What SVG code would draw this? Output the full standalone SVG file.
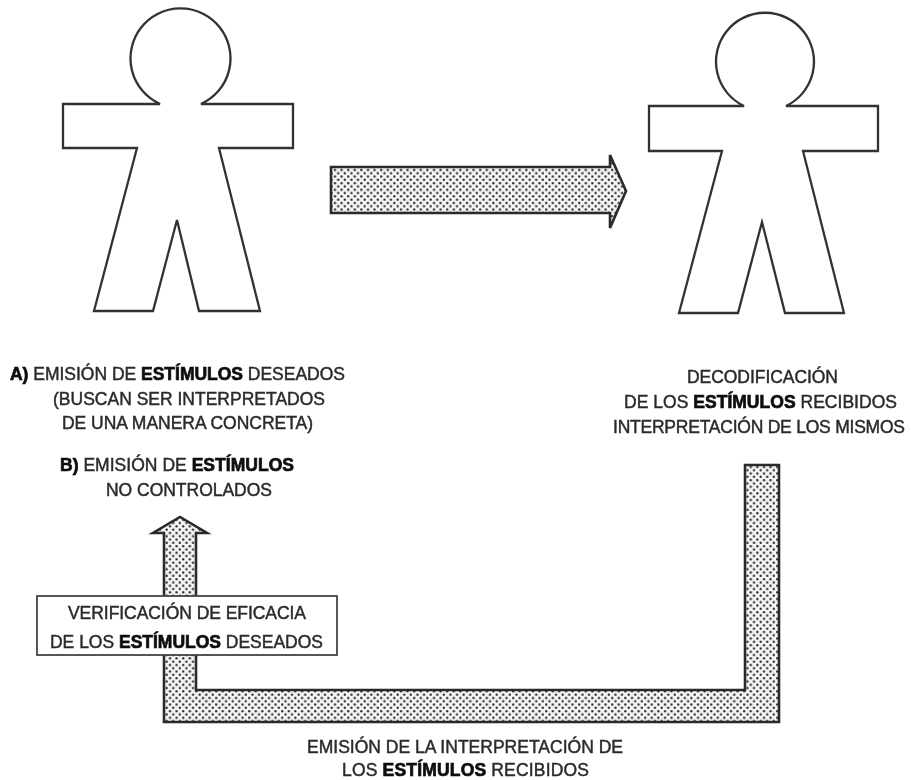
<svg xmlns="http://www.w3.org/2000/svg" width="911" height="780" viewBox="0 0 911 780">
<style>
.fig{fill:#fff;stroke:#333;stroke-width:2.3;stroke-linejoin:miter}
.arr{fill:url(#dots);stroke:#2a2a2a;stroke-width:2.6}
.box{fill:#fff;stroke:#444;stroke-width:1.8}
text{font-family:"Liberation Sans",Arial,sans-serif;font-size:17.5px;fill:#2a2a2a;stroke:#2a2a2a;stroke-width:.45}
.b{font-weight:700;stroke-width:.7;fill:#111;stroke:#111}
</style>
<defs>
<pattern id="dots" width="6.6" height="6.6" patternUnits="userSpaceOnUse">
<rect width="6.6" height="6.6" fill="#f4f4f4"/>
<circle cx="1.65" cy="1.65" r="1.15" fill="#222"/>
<circle cx="4.95" cy="4.95" r="1.15" fill="#222"/>
</pattern>
<filter id="soft" x="-5%" y="-5%" width="110%" height="110%"><feGaussianBlur stdDeviation="0.5"/></filter>
</defs>
<rect width="911" height="780" fill="#fff"/>
<g filter="url(#soft)">
<g id="persona-emisor">
<path class="fig" d="M160,104 A50,50 0 1 1 201,104 H293 V148 H219 L260,311 H199 L177,220 L153,311 H94 L137,148 H63 V104 Z"/>
</g>
<g id="persona-receptor">
<path class="fig" d="M744,106 A49,49 0 1 1 786,106 H878 V151 H803 L844,313 H785 L762,222 L738,313 H679 L722,151 H649 V106 Z"/>
</g>
<g id="connectors">
<path class="arr" d="M331,167 H610 V155 L626,191 L610,228 V213 H331 Z"/>
<path class="arr" d="M745,465 H779 V722 H164 V533 H153 L180,517 L207,533 H196 V690 H745 Z"/>
</g>
<g id="caja-verificacion">
<rect class="box" x="37" y="596" width="300" height="59"/>
<text x="68" y="619" textLength="238">VERIFICACIÓN DE EFICACIA</text>
<text x="50" y="648" textLength="273">DE LOS <tspan class="b">ESTÍMULOS</tspan> DESEADOS</text>
</g>
<g id="texto-emision">
<text x="10" y="380" textLength="335"><tspan class="b">A)</tspan> EMISIÓN DE <tspan class="b">ESTÍMULOS</tspan> DESEADOS</text>
<text x="53" y="405" textLength="272">(BUSCAN SER INTERPRETADOS</text>
<text x="62" y="429" textLength="251">DE UNA MANERA CONCRETA)</text>
<text x="60" y="471" textLength="234"><tspan class="b">B)</tspan> EMISIÓN DE <tspan class="b">ESTÍMULOS</tspan></text>
<text x="106" y="496" textLength="166">NO CONTROLADOS</text>
</g>
<g id="texto-decodificacion">
<text x="687" y="383" textLength="151">DECODIFICACIÓN</text>
<text x="624" y="408" textLength="273">DE LOS <tspan class="b">ESTÍMULOS</tspan> RECIBIDOS</text>
<text x="613" y="433" textLength="292">INTERPRETACIÓN DE LOS MISMOS</text>
</g>
<g id="texto-interpretacion">
<text x="307" y="753" textLength="316">EMISIÓN DE LA INTERPRETACIÓN DE</text>
<text x="342" y="775.5" textLength="247">LOS <tspan class="b">ESTÍMULOS</tspan> RECIBIDOS</text>
</g>
</g>
</svg>
